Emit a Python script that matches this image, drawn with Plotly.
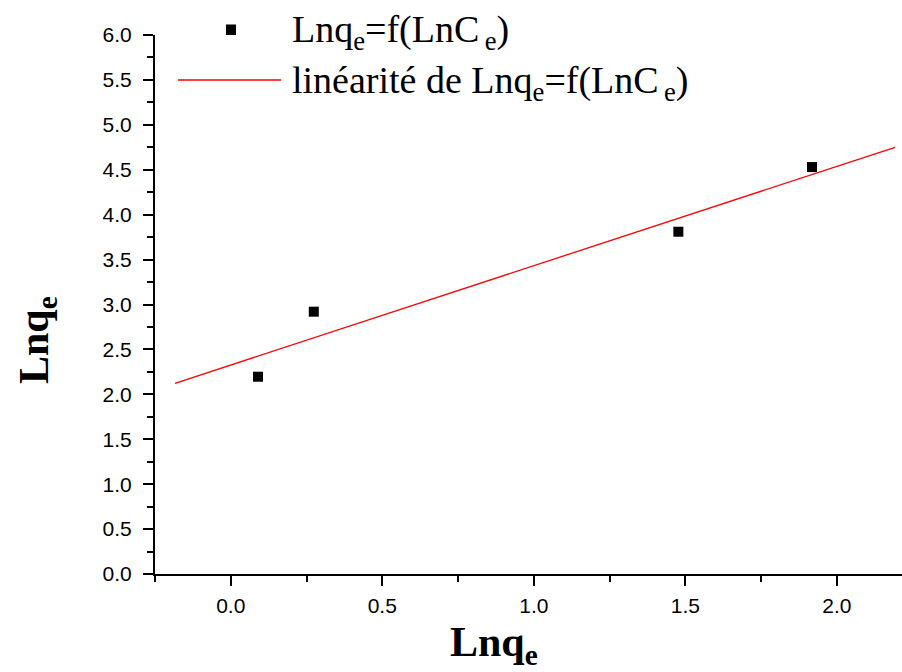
import plotly.graph_objects as go

# data
lnce = [0.090, 0.274, 1.477, 1.918]
lnqe = [2.196, 2.92, 3.81, 4.53]
fit_x = [-0.184, 2.192]
fit_y = [2.123, 4.75]

legend_names = ["Lnq<sub>e</sub>=f(LnC<sub>\u2009e</sub>)",
                "linéarité de Lnq<sub>e</sub>=f(LnC<sub>\u2009e</sub>)"]
axis_title = "<b>Lnq<sub>e</sub></b>"
x_ticks = [0.0, 0.5, 1.0, 1.5, 2.0]
y_ticks = [0.0, 0.5, 1.0, 1.5, 2.0, 2.5, 3.0, 3.5, 4.0, 4.5, 5.0, 5.5, 6.0]

W, H = 902, 672
L, R, T, B = 155, 0, 35, 98

def px(xp):
    return (xp - L) / (W - L - R)

def py(yp):
    return (H - B - yp) / (H - T - B)

fig = go.Figure()
fig.add_trace(go.Scatter(x=lnce, y=lnqe, mode="markers",
                         marker=dict(symbol="square", size=10, color="black",
                                     line=dict(width=0)),
                         name=legend_names[0], showlegend=False))
fig.add_trace(go.Scatter(x=fit_x, y=fit_y, mode="lines",
                         line=dict(color="red", width=1.3),
                         name=legend_names[1], showlegend=False))

tickfont = dict(family="Liberation Sans, Arial", size=21, color="black")
titlefont = dict(family="Liberation Serif, Times New Roman", size=42, color="black")

axis_common = dict(showgrid=False, zeroline=False, showline=True, linecolor="black",
                   linewidth=2, ticks="outside", ticklen=10, tickwidth=2,
                   tickcolor="black", tickfont=tickfont)

fig.update_xaxes(range=[-0.25, 2.215], tickvals=x_ticks,
                 ticktext=[f"{v:.1f}" for v in x_ticks],
                 minor=dict(dtick=0.25, tick0=-0.25, ticks="outside", ticklen=6,
                            tickwidth=2, tickcolor="black"),
                 ticklabelstandoff=2, **axis_common)
fig.update_yaxes(range=[0, 6], tickvals=y_ticks,
                 ticktext=[f"{v:.1f}" for v in y_ticks],
                 minor=dict(dtick=0.25, tick0=0, ticks="outside", ticklen=6,
                            tickwidth=2, tickcolor="black"),
                 ticklabelstandoff=7, **axis_common)

# axis titles
fig.add_annotation(xref="paper", yref="paper", x=px(494), y=py(617),
                   xanchor="center", yanchor="top", showarrow=False,
                   text=axis_title, font=titlefont)
fig.add_annotation(xref="paper", yref="paper", x=px(37), y=py(340),
                   xanchor="center", yanchor="middle", showarrow=False,
                   textangle=-90, text=axis_title, font=titlefont)

# legend
legfont = dict(family="Liberation Serif, Times New Roman", size=38, color="black")
fig.add_shape(type="rect", xref="paper", yref="paper",
              x0=px(226), x1=px(236), y0=py(35), y1=py(24.5),
              fillcolor="black", line=dict(width=0))
fig.add_shape(type="line", xref="paper", yref="paper",
              x0=px(178), x1=px(281), y0=py(80), y1=py(80),
              line=dict(color="red", width=1.3))
fig.add_annotation(xref="paper", yref="paper", x=px(290), y=py(32),
                   xanchor="left", yanchor="middle", showarrow=False,
                   text=legend_names[0], font=legfont)
fig.add_annotation(xref="paper", yref="paper", x=px(290), y=py(83),
                   xanchor="left", yanchor="middle", showarrow=False,
                   text=legend_names[1], font=legfont)

fig.update_layout(width=W, height=H, margin=dict(l=L, r=R, t=T, b=B, autoexpand=False),
                  plot_bgcolor="white", paper_bgcolor="white", showlegend=False)

fig.write_html("out.html")
